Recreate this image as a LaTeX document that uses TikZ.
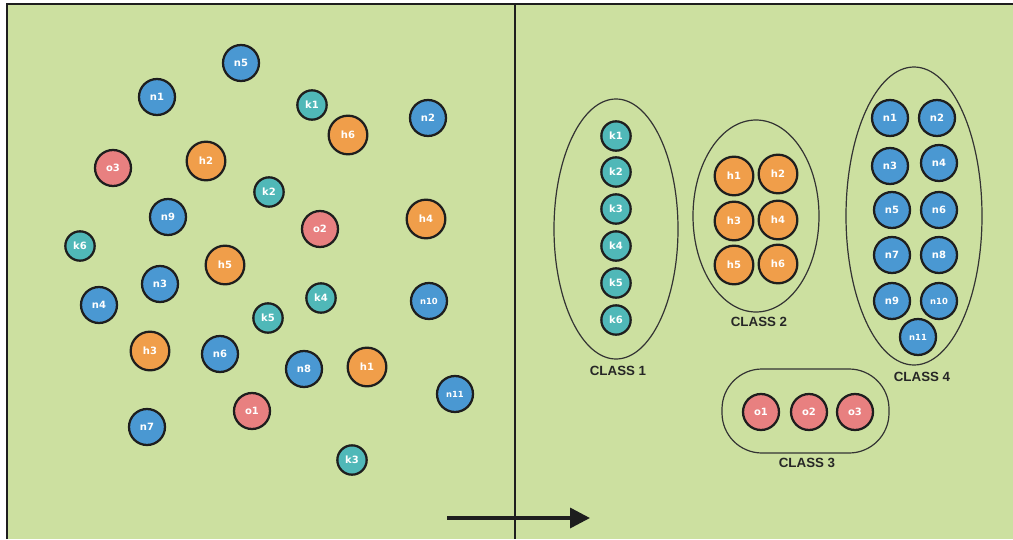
\documentclass[tikz,border=0pt]{standalone}
\usepackage{fontspec}
\setmainfont{Liberation Sans}
\newfontfamily\ballfont{DejaVu Sans}
\usetikzlibrary{arrows.meta}
\definecolor{bggreen}{RGB}{204,224,160}
\definecolor{nblue}{RGB}{74,152,210}
\definecolor{kteal}{RGB}{80,184,184}
\definecolor{horange}{RGB}{240,158,74}
\definecolor{opink}{RGB}{232,128,128}
\definecolor{rim}{RGB}{30,30,30}
\tikzset{
  ball/.style={circle,draw=rim,line width=1.7pt,text=white,inner sep=0pt,
    font=\ballfont\bfseries\fontsize{7.5}{8}\selectfont},
  nball/.style={ball,fill=nblue,minimum size=27pt},
  kball/.style={ball,fill=kteal,minimum size=22pt},
  hball/.style={ball,fill=horange,minimum size=29pt},
  oball/.style={ball,fill=opink,minimum size=27pt},
  tiny/.style={font=\ballfont\bfseries\fontsize{6.3}{7}\selectfont},
  classlabel/.style={font=\bfseries\fontsize{10}{12}\selectfont,text=black!85},
  group/.style={draw=black!80,line width=0.9pt}
}
\begin{document}
\begin{tikzpicture}[x=0.75pt,y=-0.75pt]
  \useasboundingbox (0,0) rectangle (1013,539);
  \fill[bggreen] (7,4) rectangle (1013,539);
  \draw[rim,line width=1.6pt] (7,539)--(7,4)--(1013,4);
  \draw[rim,line width=1.6pt] (515,4)--(515,539);

  % unsorted points
  \node[nball] (ln5) at (241,63) {n5};
  \node[nball] (ln1) at (157,97) {n1};
  \node[kball] (lk1) at (312,105) {k1};
  \node[hball] (lh6) at (348,135) {h6};
  \node[nball] (ln2) at (428,118) {n2};
  \node[oball] (lo3) at (113,168) {o3};
  \node[hball] (lh2) at (206,161) {h2};
  \node[kball] (lk2) at (269,192) {k2};
  \node[nball] (ln9) at (168,217) {n9};
  \node[oball] (lo2) at (320,229) {o2};
  \node[hball] (lh4) at (426,219) {h4};
  \node[kball] (lk6) at (80,246) {k6};
  \node[hball] (lh5) at (225,265) {h5};
  \node[nball] (ln3) at (160,284) {n3};
  \node[nball] (ln4) at (99,305) {n4};
  \node[kball] (lk4) at (321,298) {k4};
  \node[kball] (lk5) at (268,318) {k5};
  \node[nball,tiny] (ln10) at (429,301) {n10};
  \node[hball] (lh3) at (150,351) {h3};
  \node[nball] (ln6) at (220,354) {n6};
  \node[nball] (ln8) at (304,369) {n8};
  \node[hball] (lh1) at (367,367) {h1};
  \node[nball,tiny] (ln11) at (455,394) {n11};
  \node[oball] (lo1) at (252,411) {o1};
  \node[nball] (ln7) at (147,427) {n7};
  \node[kball] (lk3) at (352,460) {k3};

  % class 1
  \draw[group] (616,229) ellipse [x radius=62,y radius=130];
  \node[kball] (rk1) at (616,136) {k1};
  \node[kball] (rk2) at (616,172) {k2};
  \node[kball] (rk3) at (616,209) {k3};
  \node[kball] (rk4) at (616,246) {k4};
  \node[kball] (rk5) at (616,283) {k5};
  \node[kball] (rk6) at (616,320) {k6};
  \node[classlabel] (class1) at (618,371) {CLASS 1};

  % class 2
  \draw[group] (756,216) ellipse [x radius=63,y radius=96];
  \node[hball] (rh1) at (734,176) {h1};
  \node[hball] (rh2) at (778,174) {h2};
  \node[hball] (rh3) at (734,221) {h3};
  \node[hball] (rh4) at (778,220) {h4};
  \node[hball] (rh5) at (734,265) {h5};
  \node[hball] (rh6) at (778,264) {h6};
  \node[classlabel] (class2) at (759,322) {CLASS 2};

  % class 3
  \draw[group,rounded corners=30pt] (722,369) rectangle (889,453);
  \node[oball] (ro1) at (761,412) {o1};
  \node[oball] (ro2) at (809,412) {o2};
  \node[oball] (ro3) at (855,412) {o3};
  \node[classlabel] (class3) at (807,463) {CLASS 3};

  % class 4
  \draw[group] (914,216) ellipse [x radius=68,y radius=149];
  \node[nball] (rn1) at (890,118) {n1};
  \node[nball] (rn2) at (937,118) {n2};
  \node[nball] (rn3) at (890,166) {n3};
  \node[nball] (rn4) at (939,163) {n4};
  \node[nball] (rn5) at (892,210) {n5};
  \node[nball] (rn6) at (939,210) {n6};
  \node[nball] (rn7) at (892,255) {n7};
  \node[nball] (rn8) at (939,255) {n8};
  \node[nball] (rn9) at (892,301) {n9};
  \node[nball,tiny] (rn10) at (939,301) {n10};
  \node[nball,tiny] (rn11) at (918,337) {n11};
  \node[classlabel] (class4) at (922,377) {CLASS 4};

  \coordinate (from) at (447,518);
  \coordinate (to) at (590,518);
  \draw[rim,line width=2.6pt,-{Triangle[length=15pt,width=15pt]}] (from)--(to);
\end{tikzpicture}
\end{document}
